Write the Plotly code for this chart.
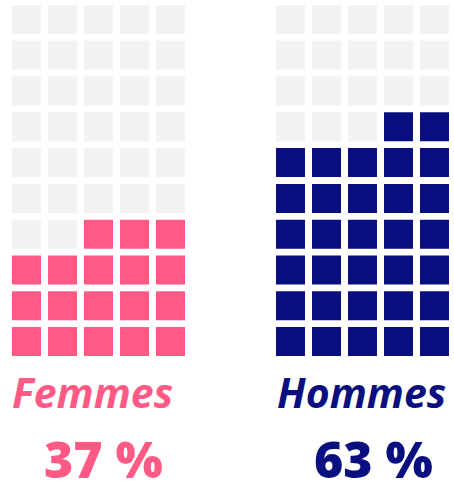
"""
Waffle chart - share of women / men (10 x 5 grid, 50 cells each)
"""
import plotly.graph_objects as go

W, H = 454, 492

# data
groups = ["Femmes", "Hommes"]
percent_labels = ["37 %", "63 %"]
filled_cells = [18, 32]          # cells coloured out of 50
n_rows, n_cols = 10, 5

# style
colors = ["#FF5A85", "#0A0F80"]
empty_color = "#F2F2F2"
x_domains = [[8.5 / W, 188.5 / W], [272.5 / W, 452.5 / W]]
y_domain = [(H - 359.5) / H, (H - 1.5) / H]
label_x = [92, 361]
pct_x = [103, 373]


def waffle_cells(n_filled):
    """cells filled from bottom row up, right to left"""
    xs_on, ys_on, xs_off, ys_off = [], [], [], []
    k = 0
    for r in range(n_rows):
        for c in reversed(range(n_cols)):
            if k < n_filled:
                xs_on.append(c); ys_on.append(r)
            else:
                xs_off.append(c); ys_off.append(r)
            k += 1
    return xs_on, ys_on, xs_off, ys_off


fig = go.Figure()

for i, name in enumerate(groups):
    xs_on, ys_on, xs_off, ys_off = waffle_cells(filled_cells[i])
    suffix = "" if i == 0 else str(i + 1)
    for xs, ys, col in [(xs_off, ys_off, empty_color), (xs_on, ys_on, colors[i])]:
        fig.add_trace(go.Scatter(
            x=xs, y=ys, mode="markers",
            marker=dict(symbol="square", size=29, color=col, line=dict(width=0)),
            xaxis="x" + suffix, yaxis="y" + suffix,
            hoverinfo="skip", showlegend=False,
        ))
    fig.update_layout(**{
        "xaxis" + suffix: dict(domain=x_domains[i], range=[-0.5, n_cols - 0.5],
                               visible=False, fixedrange=True),
        "yaxis" + suffix: dict(domain=y_domain, range=[-0.5, n_rows - 0.5],
                               visible=False, fixedrange=True,
                               anchor="x" + suffix),
    })

    fig.add_annotation(
        text=name, xref="paper", yref="paper",
        x=label_x[i] / W, y=1 - 392 / H, xanchor="center", yanchor="middle",
        showarrow=False,
        font=dict(family="Open Sans", size=41, color=colors[i],
                  weight="bold", style="italic"),
    )
    fig.add_annotation(
        text=percent_labels[i], xref="paper", yref="paper",
        x=pct_x[i] / W, y=1 - 459 / H, xanchor="center", yanchor="middle",
        showarrow=False, borderpad=0,
        font=dict(family="Open Sans", size=50, color=colors[i], weight=800),
    )

fig.update_layout(
    width=W, height=H,
    margin=dict(l=0, r=0, t=0, b=0),
    plot_bgcolor="white", paper_bgcolor="white",
)

fig.write_html("out.html", config={"displayModeBar": False},
               post_script="document.body.style.margin = '0';")
